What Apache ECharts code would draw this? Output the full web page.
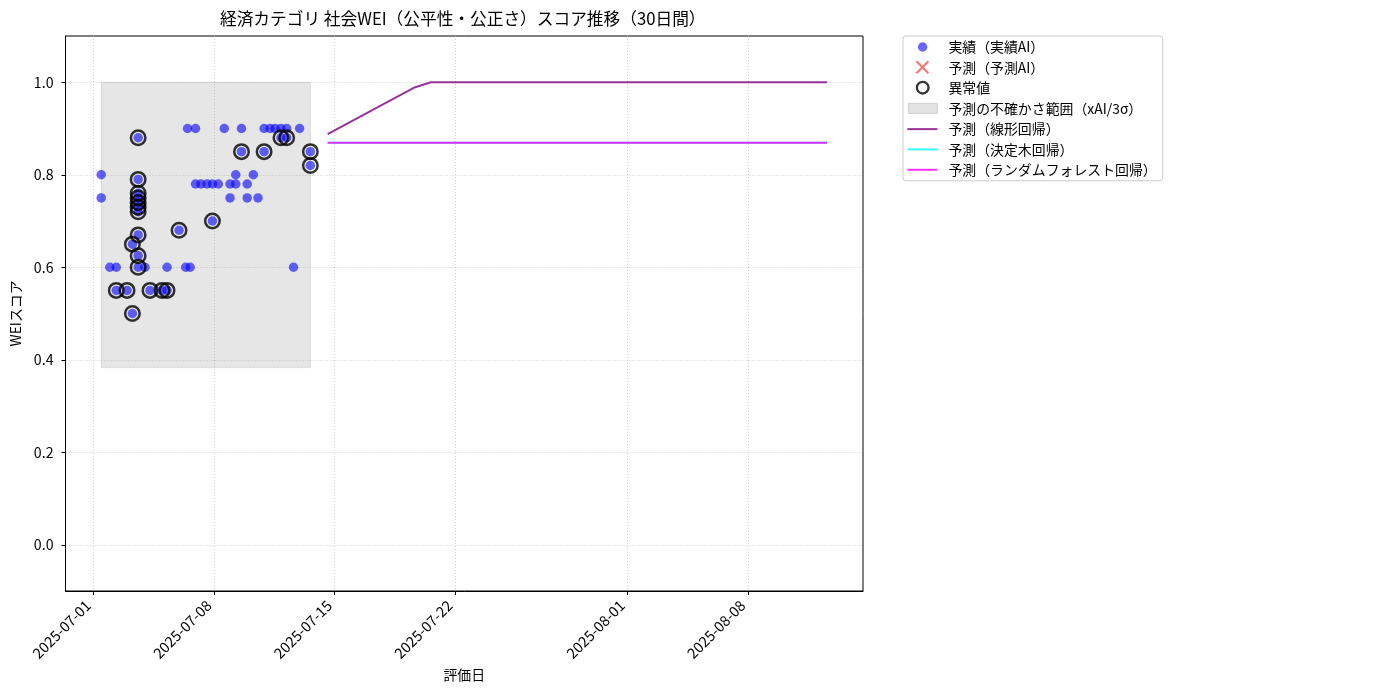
<!DOCTYPE html>
<html>
<head>
<meta charset="utf-8">
<script src="https://cdn.jsdelivr.net/npm/echarts@6/dist/echarts.min.js"></script>
<style>
html,body{margin:0;padding:0;background:#fff;}
#chart{width:1400px;height:700px;}
</style>
</head>
<body>
<div id="chart"></div>
<script>
// ---- data ----
const titleText = '経済カテゴリ 社会WEI（公平性・公正さ）スコア推移（30日間）';
const xTickLabels = ['2025-07-01', '2025-07-08', '2025-07-15', '2025-07-22', '2025-08-01', '2025-08-08'];
const yTickValues = [0.0, 0.2, 0.4, 0.6, 0.8, 1.0];

const actualDates = [
  '2025-07-01 11:00','2025-07-01 11:00','2025-07-01 23:00','2025-07-02 08:00','2025-07-02 08:00',
  '2025-07-02 23:00','2025-07-03 06:30','2025-07-03 06:30','2025-07-03 14:30','2025-07-03 14:30',
  '2025-07-03 14:30','2025-07-03 14:30','2025-07-03 14:30','2025-07-03 14:30','2025-07-03 14:30',
  '2025-07-03 14:30','2025-07-03 14:30','2025-07-03 14:30','2025-07-04 00:00','2025-07-04 07:00',
  '2025-07-04 23:45','2025-07-05 06:45','2025-07-05 06:45','2025-07-05 23:30','2025-07-06 08:40',
  '2025-07-06 11:20','2025-07-06 15:00','2025-07-06 22:30','2025-07-06 22:30','2025-07-07 06:00',
  '2025-07-07 14:30','2025-07-07 22:00','2025-07-07 22:00','2025-07-08 06:15','2025-07-08 14:30',
  '2025-07-08 22:30','2025-07-08 22:30','2025-07-09 06:30','2025-07-09 06:30','2025-07-09 14:30',
  '2025-07-09 14:30','2025-07-09 22:30','2025-07-09 22:30','2025-07-10 07:00','2025-07-10 13:30',
  '2025-07-10 22:00','2025-07-10 22:00','2025-07-11 06:15','2025-07-11 13:15','2025-07-11 21:30',
  '2025-07-11 21:30','2025-07-12 05:30','2025-07-12 05:30','2025-07-12 15:00','2025-07-12 23:30',
  '2025-07-13 14:30','2025-07-13 14:30'
];
const actualValues = [
  0.80,0.75,0.60,0.60,0.55,
  0.55,0.65,0.50,0.88,0.79,
  0.76,0.75,0.74,0.73,0.72,
  0.67,0.625,0.60,0.60,0.55,
  0.55,0.55,0.60,0.68,0.60,
  0.90,0.60,0.90,0.78,0.78,
  0.78,0.78,0.70,0.78,0.90,
  0.78,0.75,0.80,0.78,0.90,
  0.85,0.78,0.75,0.80,0.75,
  0.90,0.85,0.90,0.90,0.90,
  0.88,0.90,0.88,0.60,0.90,
  0.85,0.82
];

const anomalyDates = [
  '2025-07-02 08:00','2025-07-02 23:00','2025-07-03 06:30','2025-07-03 06:30','2025-07-03 14:30',
  '2025-07-03 14:30','2025-07-03 14:30','2025-07-03 14:30','2025-07-03 14:30','2025-07-03 14:30',
  '2025-07-03 14:30','2025-07-03 14:30','2025-07-03 14:30','2025-07-03 14:30','2025-07-04 07:00',
  '2025-07-04 23:45','2025-07-05 06:45','2025-07-05 23:30','2025-07-07 22:00','2025-07-09 14:30',
  '2025-07-10 22:00','2025-07-11 21:30','2025-07-12 05:30','2025-07-13 14:30','2025-07-13 14:30'
];
const anomalyValues = [
  0.55,0.55,0.65,0.50,0.88,
  0.79,0.76,0.75,0.74,0.73,
  0.72,0.67,0.625,0.60,0.55,
  0.55,0.55,0.68,0.70,0.85,
  0.85,0.88,0.88,0.85,0.82
];

const predAIDates = [];
const predAIValues = [];

const bandDates = ['2025-07-01 11:00', '2025-07-13 14:30'];
const bandLower = [0.383, 0.383];
const bandUpper = [1.0, 1.0];

const predDates = [
  '2025-07-14 14:30','2025-07-15 14:30','2025-07-16 14:30','2025-07-17 14:30','2025-07-18 14:30',
  '2025-07-19 14:30','2025-07-20 14:30','2025-07-21 14:30','2025-07-22 14:30','2025-07-23 14:30',
  '2025-07-24 14:30','2025-07-25 14:30','2025-07-26 14:30','2025-07-27 14:30','2025-07-28 14:30',
  '2025-07-29 14:30','2025-07-30 14:30','2025-07-31 14:30','2025-08-01 14:30','2025-08-02 14:30',
  '2025-08-03 14:30','2025-08-04 14:30','2025-08-05 14:30','2025-08-06 14:30','2025-08-07 14:30',
  '2025-08-08 14:30','2025-08-09 14:30','2025-08-10 14:30','2025-08-11 14:30','2025-08-12 14:30'
];
const linearValues = [
  0.888,0.908,0.928,0.948,0.968,0.988,1.0,1.0,1.0,1.0,
  1.0,1.0,1.0,1.0,1.0,1.0,1.0,1.0,1.0,1.0,
  1.0,1.0,1.0,1.0,1.0,1.0,1.0,1.0,1.0,1.0
];
const treeValues = [
  0.869,0.869,0.869,0.869,0.869,0.869,0.869,0.869,0.869,0.869,
  0.869,0.869,0.869,0.869,0.869,0.869,0.869,0.869,0.869,0.869,
  0.869,0.869,0.869,0.869,0.869,0.869,0.869,0.869,0.869,0.869
];
const rfValues = [
  0.869,0.869,0.869,0.869,0.869,0.869,0.869,0.869,0.869,0.869,
  0.869,0.869,0.869,0.869,0.869,0.869,0.869,0.869,0.869,0.869,
  0.869,0.869,0.869,0.869,0.869,0.869,0.869,0.869,0.869,0.869
];

const seriesNames = ['実績（実績AI）', '予測（予測AI）', '異常値', '予測の不確かさ範囲（xAI/3σ）',
  '予測（線形回帰）', '予測（決定木回帰）', '予測（ランダムフォレスト回帰）'];

// ---- build ----
const FONT = '"Noto Sans CJK JP", "Noto Sans", sans-serif';
const DAY = 86400000;
function parseLocal(s) {
  const m = s.match(/(\d+)-(\d+)-(\d+)(?:\s+(\d+):(\d+))?/);
  return new Date(+m[1], +m[2] - 1, +m[3], m[4] ? +m[4] : 0, m[5] ? +m[5] : 0).getTime();
}
function pad(n) { return (n < 10 ? '0' : '') + n; }
function fmtDate(v) {
  const d = new Date(v);
  return d.getFullYear() + '-' + pad(d.getMonth() + 1) + '-' + pad(d.getDate());
}
const zip = (xs, ys) => xs.map((x, i) => [parseLocal(x), ys[i]]);
const base = parseLocal('2025-07-01');
const xMin = base - 1.614 * DAY;
const xMax = base + 44.69 * DAY;
const xTicks = xTickLabels.map(parseLocal);

// legend icons drawn in a 36x14 box (the invisible moveTo points set the box)
const icons = {
  dot: 'path://M0,0M36,14M10.5,7A4.7,4.7,0,1,1,19.9,7A4.7,4.7,0,1,1,10.5,7Z',
  cross: 'path://M0,0M36,14M8.29,1.71L20.29,13.71L21.71,12.29L9.71,0.29ZM9.71,13.71L21.71,1.71L20.29,0.29L8.29,12.29Z',
  ring: 'path://M0,0M36,14M7.2,7A7.8,7.8,0,1,1,22.8,7A7.8,7.8,0,1,1,7.2,7ZM9.8,7A5.2,5.2,0,1,0,20.2,7A5.2,5.2,0,1,0,9.8,7Z',
  rect: 'path://M0,0M36,14M1,2L30,2L30,12L1,12Z',
  line: 'path://M0,0M36,14M0,6L30,6L30,8L0,8Z'
};

const chart = echarts.init(document.getElementById('chart'), null, { renderer: 'canvas' });
chart.setOption({
  animation: false,
  backgroundColor: '#fff',
  textStyle: { fontFamily: FONT },
  title: {
    text: titleText,
    left: 220, top: 10, padding: 0,
    textStyle: { fontSize: 16.7, fontWeight: 'normal', color: '#000', fontFamily: FONT }
  },
  grid: { left: 65.5, right: 537, top: 36, bottom: 109, show: true, borderColor: '#000', borderWidth: 1, backgroundColor: 'transparent' },
  legend: {
    orient: 'vertical',
    left: 903, top: 36,
    padding: [4, 6, 4, 4],
    itemWidth: 36, itemHeight: 14, itemGap: 6.33,
    borderColor: '#cccccc', borderWidth: 1, borderRadius: 3,
    backgroundColor: '#fff',
    textStyle: { fontSize: 13.9, color: '#000', fontFamily: FONT },
    itemStyle: { borderWidth: 0 },
    selectedMode: false,
    data: [
      { name: seriesNames[0], icon: icons.dot, itemStyle: { color: 'rgba(0,0,255,0.75)', borderWidth: 0 } },
      { name: seriesNames[1], icon: icons.cross, itemStyle: { color: 'rgba(255,0,0,0.7)', borderWidth: 0 } },
      { name: seriesNames[2], icon: icons.ring, itemStyle: { color: '#000', borderWidth: 0 } },
      { name: seriesNames[3], icon: icons.rect, itemStyle: { color: '#e3e3e3', borderColor: '#c8c8c8', borderWidth: 0.8 } },
      { name: seriesNames[4], icon: icons.line, itemStyle: { color: 'rgba(128,0,128,0.8)', borderWidth: 0 } },
      { name: seriesNames[5], icon: icons.line, itemStyle: { color: 'rgba(0,255,255,0.8)', borderWidth: 0 } },
      { name: seriesNames[6], icon: icons.line, itemStyle: { color: 'rgba(255,0,255,0.8)', borderWidth: 0 } }
    ]
  },
  xAxis: {
    type: 'value',
    min: xMin, max: xMax,
    name: '評価日', nameLocation: 'middle', nameGap: 77,
    nameTextStyle: { fontSize: 13.9, color: '#000', fontFamily: FONT },
    axisLine: { show: true, onZero: false, lineStyle: { color: '#000', width: 1 } },
    axisTick: { show: true, length: 4, lineStyle: { color: '#000' }, customValues: xTicks },
    axisLabel: { show: true, rotate: 45, margin: 17, align: 'right', verticalAlign: 'bottom',
      fontSize: 14.6, color: '#000', fontFamily: FONT,
      customValues: xTicks, formatter: (v) => fmtDate(v), showMinLabel: true, showMaxLabel: true },
    splitLine: { show: true, lineStyle: { color: '#c4c4c4', type: [1, 2], width: 0.8 } }
  },
  yAxis: {
    type: 'value',
    min: -0.1, max: 1.1,
    name: 'WEIスコア', nameLocation: 'middle', nameGap: 39, nameRotate: 90,
    nameTextStyle: { fontSize: 13.9, color: '#000', fontFamily: FONT },
    axisLine: { show: true, onZero: false, lineStyle: { color: '#000', width: 1 } },
    axisTick: { show: true, length: 4, lineStyle: { color: '#000' }, customValues: yTickValues },
    axisLabel: { show: true, margin: 12, fontSize: 14.2, color: '#000', fontFamily: FONT,
      customValues: yTickValues, formatter: (v) => v.toFixed(1) },
    splitLine: { show: true, lineStyle: { color: '#c4c4c4', type: [1, 2], width: 0.8 } }
  },
  series: [
    {
      name: seriesNames[3], type: 'line', data: [], silent: true, z: 1,
      itemStyle: { color: '#e3e3e3' },
      markArea: {
        silent: true,
        itemStyle: { color: 'rgba(128,128,128,0.2)', borderColor: 'rgba(128,128,128,0.25)', borderWidth: 0.8 },
        data: [[
          { xAxis: parseLocal(bandDates[0]), yAxis: bandLower[0] },
          { xAxis: parseLocal(bandDates[1]), yAxis: bandUpper[1] }
        ]]
      }
    },
    {
      name: seriesNames[0], type: 'scatter', z: 3,
      symbol: 'circle', symbolSize: 9.5,
      itemStyle: { color: 'rgba(0,0,255,0.75)', borderWidth: 0 },
      data: zip(actualDates, actualValues)
    },
    {
      name: seriesNames[1], type: 'scatter', z: 3,
      symbol: 'path://M0,0L1,1M1,0L0,1', symbolSize: 12,
      itemStyle: { color: 'rgba(255,0,0,0.7)' },
      data: zip(predAIDates, predAIValues)
    },
    {
      name: seriesNames[2], type: 'scatter', z: 4,
      symbol: 'circle', symbolSize: 14.5,
      itemStyle: { color: 'rgba(0,0,0,0)', borderColor: '#000', borderWidth: 2.5 },
      data: zip(anomalyDates, anomalyValues)
    },
    {
      name: seriesNames[4], type: 'line', z: 5, showSymbol: false, symbol: 'none',
      lineStyle: { color: 'rgba(128,0,128,0.8)', width: 2 },
      itemStyle: { color: 'rgba(128,0,128,0.8)' },
      data: zip(predDates, linearValues)
    },
    {
      name: seriesNames[5], type: 'line', z: 5, showSymbol: false, symbol: 'none',
      lineStyle: { color: 'rgba(0,255,255,0.8)', width: 2 },
      itemStyle: { color: 'rgba(0,255,255,0.8)' },
      data: zip(predDates, treeValues)
    },
    {
      name: seriesNames[6], type: 'line', z: 6, showSymbol: false, symbol: 'none',
      lineStyle: { color: 'rgba(255,0,255,0.8)', width: 2 },
      itemStyle: { color: 'rgba(255,0,255,0.8)' },
      data: zip(predDates, rfValues)
    }
  ]
});
</script>
</body>
</html>
